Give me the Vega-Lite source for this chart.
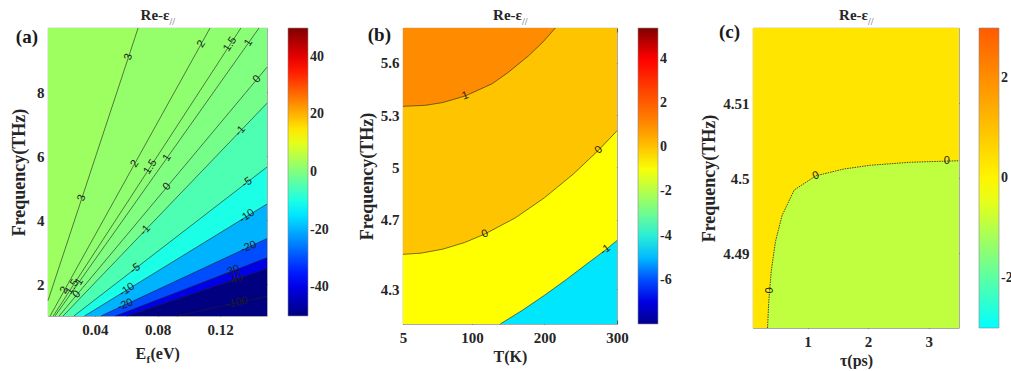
{
  "$schema": "https://vega.github.io/schema/vega-lite/v6.json",
  "background": "white",
  "padding": {"left": 10, "top": 7, "right": 0, "bottom": 0},
  "bounds": "flush",
  "spacing": 136,
  "datasets": {
    "a_c": [
      {"lev": 10, "band": 3, "Ef": 0.01, "F": 10}, {"lev": 10, "band": 3, "Ef": 0.15, "F": 10},
      {"lev": 3, "band": 2, "Ef": 0.01, "F": 1.48}, {"lev": 3, "band": 2, "Ef": 0.0676, "F": 10}, {"lev": 3, "band": 2, "Ef": 0.15, "F": 10},
      {"lev": 2, "band": 1.5, "Ef": 0.01136, "F": 1}, {"lev": 2, "band": 1.5, "Ef": 0.1136, "F": 10}, {"lev": 2, "band": 1.5, "Ef": 0.15, "F": 10},
      {"lev": 1.5, "band": 1, "Ef": 0.01333, "F": 1}, {"lev": 1.5, "band": 1, "Ef": 0.1333, "F": 10}, {"lev": 1.5, "band": 1, "Ef": 0.15, "F": 10},
      {"lev": 1, "band": 0, "Ef": 0.01449, "F": 1}, {"lev": 1, "band": 0, "Ef": 0.1449, "F": 10}, {"lev": 1, "band": 0, "Ef": 0.15, "F": 10},
      {"lev": 0, "band": -1, "Ef": 0.01709, "F": 1}, {"lev": 0, "band": -1, "Ef": 0.15, "F": 8.775},
      {"lev": -1, "band": -5, "Ef": 0.01961, "F": 1}, {"lev": -1, "band": -5, "Ef": 0.15, "F": 7.65},
      {"lev": -5, "band": -10, "Ef": 0.02653, "F": 1}, {"lev": -5, "band": -10, "Ef": 0.15, "F": 5.655},
      {"lev": -10, "band": -20, "Ef": 0.03333, "F": 1}, {"lev": -10, "band": -20, "Ef": 0.15, "F": 4.5},
      {"lev": -20, "band": -30, "Ef": 0.04386, "F": 1}, {"lev": -20, "band": -30, "Ef": 0.15, "F": 3.42},
      {"lev": -30, "band": -40, "Ef": 0.05319, "F": 1}, {"lev": -30, "band": -40, "Ef": 0.15, "F": 2.82},
      {"lev": -40, "band": -50, "Ef": 0.06061, "F": 1}, {"lev": -40, "band": -50, "Ef": 0.15, "F": 2.475},
      {"lev": -100, "band": -50, "Ef": 0.09259, "F": 1}, {"lev": -100, "band": -50, "Ef": 0.15, "F": 1.62}
    ],
    "a_l": [
      {"lev": 3, "Ef": 0.0317, "F": 4.69}, {"lev": 3, "Ef": 0.0615, "F": 9.1},
      {"lev": 2, "Ef": 0.0205, "F": 1.8}, {"lev": 2, "Ef": 0.0655, "F": 5.76}, {"lev": 2, "Ef": 0.108, "F": 9.5},
      {"lev": 1.5, "Ef": 0.0255, "F": 1.91}, {"lev": 1.5, "Ef": 0.0755, "F": 5.66}, {"lev": 1.5, "Ef": 0.1265, "F": 9.49},
      {"lev": 1, "Ef": 0.03, "F": 2.07}, {"lev": 1, "Ef": 0.0861, "F": 5.94}, {"lev": 1, "Ef": 0.1383, "F": 9.54},
      {"lev": 0, "Ef": 0.0285, "F": 1.67}, {"lev": 0, "Ef": 0.0861, "F": 5.04}, {"lev": 0, "Ef": 0.1436, "F": 8.4},
      {"lev": -1, "Ef": 0.0722, "F": 3.68}, {"lev": -1, "Ef": 0.133, "F": 6.78},
      {"lev": -5, "Ef": 0.0658, "F": 2.48}, {"lev": -5, "Ef": 0.1372, "F": 5.17},
      {"lev": -10, "Ef": 0.0605, "F": 1.82}, {"lev": -10, "Ef": 0.1372, "F": 4.12},
      {"lev": -20, "Ef": 0.0594, "F": 1.35}, {"lev": -20, "Ef": 0.1383, "F": 3.15},
      {"lev": -30, "Ef": 0.1276, "F": 2.4},
      {"lev": -40, "Ef": 0.1297, "F": 2.14},
      {"lev": -100, "Ef": 0.1308, "F": 1.41}
    ],
    "b_c": [
      {"lev": 10, "band": 0, "T": 5, "F": 5.8}, {"lev": 10, "band": 0, "T": 300, "F": 5.8},
      {"lev": 1, "band": 1, "T": 5, "F": 5.35}, {"lev": 1, "band": 1, "T": 36, "F": 5.356}, {"lev": 1, "band": 1, "T": 60, "F": 5.372}, {"lev": 1, "band": 1, "T": 91, "F": 5.41}, {"lev": 1, "band": 1, "T": 128, "F": 5.48}, {"lev": 1, "band": 1, "T": 150, "F": 5.545}, {"lev": 1, "band": 1, "T": 178, "F": 5.64}, {"lev": 1, "band": 1, "T": 198, "F": 5.72}, {"lev": 1, "band": 1, "T": 215, "F": 5.8},
      {"lev": 0, "band": -0.9, "T": 5, "F": 4.5}, {"lev": 0, "band": -0.9, "T": 30, "F": 4.507}, {"lev": 0, "band": -0.9, "T": 60, "F": 4.53}, {"lev": 0, "band": -0.9, "T": 90, "F": 4.568}, {"lev": 0, "band": -0.9, "T": 118, "F": 4.617}, {"lev": 0, "band": -0.9, "T": 160, "F": 4.71}, {"lev": 0, "band": -0.9, "T": 200, "F": 4.825}, {"lev": 0, "band": -0.9, "T": 240, "F": 4.962}, {"lev": 0, "band": -0.9, "T": 275, "F": 5.1}, {"lev": 0, "band": -0.9, "T": 300, "F": 5.21},
      {"lev": -1, "band": -4.6, "T": 139, "F": 4.1}, {"lev": -1, "band": -4.6, "T": 170, "F": 4.18}, {"lev": -1, "band": -4.6, "T": 200, "F": 4.265}, {"lev": -1, "band": -4.6, "T": 230, "F": 4.355}, {"lev": -1, "band": -4.6, "T": 260, "F": 4.45}, {"lev": -1, "band": -4.6, "T": 284, "F": 4.525}, {"lev": -1, "band": -4.6, "T": 300, "F": 4.58}
    ],
    "b_l": [
      {"lev": 1, "T": 91, "F": 5.41}, {"lev": 0, "T": 118, "F": 4.617}, {"lev": 0, "T": 275, "F": 5.1}, {"lev": -1, "T": 284, "F": 4.525}
    ],
    "c_c": [
      {"lev": 10, "band": 0.3, "tau": 0.1, "F": 4.52}, {"lev": 10, "band": 0.3, "tau": 3.5, "F": 4.52},
      {"lev": 0, "band": -0.9, "tau": 0.34, "F": 4.48}, {"lev": 0, "band": -0.9, "tau": 0.36, "F": 4.4835}, {"lev": 0, "band": -0.9, "tau": 0.4, "F": 4.4875}, {"lev": 0, "band": -0.9, "tau": 0.47, "F": 4.4915}, {"lev": 0, "band": -0.9, "tau": 0.58, "F": 4.495}, {"lev": 0, "band": -0.9, "tau": 0.78, "F": 4.4984}, {"lev": 0, "band": -0.9, "tau": 1.14, "F": 4.5003}, {"lev": 0, "band": -0.9, "tau": 1.6, "F": 4.5012}, {"lev": 0, "band": -0.9, "tau": 2.04, "F": 4.5017}, {"lev": 0, "band": -0.9, "tau": 2.7, "F": 4.5021}, {"lev": 0, "band": -0.9, "tau": 3.5, "F": 4.5023}
    ],
    "c_l": [
      {"lev": 0, "tau": 0.375, "F": 4.485}, {"lev": 0, "tau": 1.14, "F": 4.5003}, {"lev": 0, "tau": 3.3, "F": 4.5023}
    ]
  },
  "hconcat": [
    {
      "width": 219, "height": 288,
      "resolve": {"axis": {"x": "independent", "y": "independent"}},
      "layer": [
        {"data": {"name": "a_c"}, "transform": [{"filter": "datum.lev == 10"}], "mark": "area",
         "encoding": {
           "x": {"field": "Ef", "type": "quantitative", "scale": {"domain": [0.01, 0.15], "nice": false, "zero": false}, "axis": {"values": [0.04, 0.08, 0.12], "format": ".2f", "title": null}},
           "y": {"field": "F", "type": "quantitative", "scale": {"domain": [1, 10], "nice": false, "zero": false}, "axis": {"values": [2, 4, 6, 8], "format": ".0f", "title": "Frequency(THz)", "titlePadding": 8}},
           "y2": {"datum": 1},
           "color": {"field": "band", "type": "quantitative",
             "scale": {"domain": [-50, -37.5, -12.5, 12.5, 37.5, 50], "range": ["#000080", "#0000ff", "#00ffff", "#ffff00", "#ff0000", "#800000"], "clamp": true, "interpolate": "rgb"},
             "legend": {"title": null, "values": [-40, -20, 0, 20, 40], "gradientLength": 288, "format": ".0f"}}
         }},
        {"data": {"name": "a_c"}, "transform": [{"filter": "datum.lev == 3"}], "mark": "area", "encoding": {"x": {"field": "Ef", "type": "quantitative", "axis": null}, "y": {"field": "F", "type": "quantitative", "axis": null}, "y2": {"datum": 1}, "color": {"field": "band", "type": "quantitative"}}},
        {"data": {"name": "a_c"}, "transform": [{"filter": "datum.lev == 2"}], "mark": "area", "encoding": {"x": {"field": "Ef", "type": "quantitative", "axis": null}, "y": {"field": "F", "type": "quantitative", "axis": null}, "y2": {"datum": 1}, "color": {"field": "band", "type": "quantitative"}}},
        {"data": {"name": "a_c"}, "transform": [{"filter": "datum.lev == 1.5"}], "mark": "area", "encoding": {"x": {"field": "Ef", "type": "quantitative", "axis": null}, "y": {"field": "F", "type": "quantitative", "axis": null}, "y2": {"datum": 1}, "color": {"field": "band", "type": "quantitative"}}},
        {"data": {"name": "a_c"}, "transform": [{"filter": "datum.lev == 1"}], "mark": "area", "encoding": {"x": {"field": "Ef", "type": "quantitative", "axis": null}, "y": {"field": "F", "type": "quantitative", "axis": null}, "y2": {"datum": 1}, "color": {"field": "band", "type": "quantitative"}}},
        {"data": {"name": "a_c"}, "transform": [{"filter": "datum.lev == 0"}], "mark": "area", "encoding": {"x": {"field": "Ef", "type": "quantitative", "axis": null}, "y": {"field": "F", "type": "quantitative", "axis": null}, "y2": {"datum": 1}, "color": {"field": "band", "type": "quantitative"}}},
        {"data": {"name": "a_c"}, "transform": [{"filter": "datum.lev == -1"}], "mark": "area", "encoding": {"x": {"field": "Ef", "type": "quantitative", "axis": null}, "y": {"field": "F", "type": "quantitative", "axis": null}, "y2": {"datum": 1}, "color": {"field": "band", "type": "quantitative"}}},
        {"data": {"name": "a_c"}, "transform": [{"filter": "datum.lev == -5"}], "mark": "area", "encoding": {"x": {"field": "Ef", "type": "quantitative", "axis": null}, "y": {"field": "F", "type": "quantitative", "axis": null}, "y2": {"datum": 1}, "color": {"field": "band", "type": "quantitative"}}},
        {"data": {"name": "a_c"}, "transform": [{"filter": "datum.lev == -10"}], "mark": "area", "encoding": {"x": {"field": "Ef", "type": "quantitative", "axis": null}, "y": {"field": "F", "type": "quantitative", "axis": null}, "y2": {"datum": 1}, "color": {"field": "band", "type": "quantitative"}}},
        {"data": {"name": "a_c"}, "transform": [{"filter": "datum.lev == -20"}], "mark": "area", "encoding": {"x": {"field": "Ef", "type": "quantitative", "axis": null}, "y": {"field": "F", "type": "quantitative", "axis": null}, "y2": {"datum": 1}, "color": {"field": "band", "type": "quantitative"}}},
        {"data": {"name": "a_c"}, "transform": [{"filter": "datum.lev == -30"}], "mark": "area", "encoding": {"x": {"field": "Ef", "type": "quantitative", "axis": null}, "y": {"field": "F", "type": "quantitative", "axis": null}, "y2": {"datum": 1}, "color": {"field": "band", "type": "quantitative"}}},
        {"data": {"name": "a_c"}, "transform": [{"filter": "datum.lev == -40"}], "mark": "area", "encoding": {"x": {"field": "Ef", "type": "quantitative", "axis": null}, "y": {"field": "F", "type": "quantitative", "axis": null}, "y2": {"datum": 1}, "color": {"field": "band", "type": "quantitative"}}},
        {"data": {"name": "a_c"}, "transform": [{"filter": "datum.lev < 10 && !(datum.Ef == 0.15 && datum.F == 10)"}],
         "mark": {"type": "line", "color": "#1e1e1e", "strokeWidth": 0.6},
         "encoding": {
           "x": {"field": "Ef", "type": "quantitative", "axis": {"orient": "top", "values": [0.04, 0.08, 0.12], "labels": false, "title": null}},
           "y": {"field": "F", "type": "quantitative", "axis": {"orient": "right", "values": [2, 4, 6, 8], "labels": false, "title": null}},
           "detail": {"field": "lev", "type": "nominal"}
         }},
        {"data": {"name": "a_l"}, "transform": [{"filter": "datum.lev == 3"}], "mark": {"type": "text", "angle": 288, "font": "Liberation Sans", "fontSize": 11, "color": "#1e1e1e"}, "encoding": {"x": {"field": "Ef", "type": "quantitative", "axis": null}, "y": {"field": "F", "type": "quantitative", "axis": null}, "text": {"field": "lev", "type": "quantitative", "format": "~g"}}},
        {"data": {"name": "a_l"}, "transform": [{"filter": "datum.lev == 2 || datum.lev == 1.5 || datum.lev == 1"}], "mark": {"type": "text", "angle": 303, "font": "Liberation Sans", "fontSize": 11, "color": "#1e1e1e"}, "encoding": {"x": {"field": "Ef", "type": "quantitative", "axis": null}, "y": {"field": "F", "type": "quantitative", "axis": null}, "text": {"field": "lev", "type": "quantitative", "format": "~g"}}},
        {"data": {"name": "a_l"}, "transform": [{"filter": "datum.lev == 0 || datum.lev == -1"}], "mark": {"type": "text", "angle": 312, "font": "Liberation Sans", "fontSize": 11, "color": "#1e1e1e"}, "encoding": {"x": {"field": "Ef", "type": "quantitative", "axis": null}, "y": {"field": "F", "type": "quantitative", "axis": null}, "text": {"field": "lev", "type": "quantitative", "format": "~g"}}},
        {"data": {"name": "a_l"}, "transform": [{"filter": "datum.lev == -5 || datum.lev == -10"}], "mark": {"type": "text", "angle": 325, "font": "Liberation Sans", "fontSize": 11, "color": "#1e1e1e"}, "encoding": {"x": {"field": "Ef", "type": "quantitative", "axis": null}, "y": {"field": "F", "type": "quantitative", "axis": null}, "text": {"field": "lev", "type": "quantitative", "format": "~g"}}},
        {"data": {"name": "a_l"}, "transform": [{"filter": "datum.lev == -20 || datum.lev == -30 || datum.lev == -40"}], "mark": {"type": "text", "angle": 338, "font": "Liberation Sans", "fontSize": 11, "color": "#1e1e1e"}, "encoding": {"x": {"field": "Ef", "type": "quantitative", "axis": null}, "y": {"field": "F", "type": "quantitative", "axis": null}, "text": {"field": "lev", "type": "quantitative", "format": "~g"}}},
        {"data": {"name": "a_l"}, "transform": [{"filter": "datum.lev == -100"}], "mark": {"type": "text", "angle": 348, "font": "Liberation Sans", "fontSize": 11, "color": "#1e1e1e"}, "encoding": {"x": {"field": "Ef", "type": "quantitative", "axis": null}, "y": {"field": "F", "type": "quantitative", "axis": null}, "text": {"field": "lev", "type": "quantitative", "format": "~g"}}},
        {"data": {"values": [{}]}, "mark": {"type": "text", "text": "E", "align": "left", "baseline": "alphabetic", "dx": -22, "dy": 43, "font": "Liberation Serif", "fontSize": 16, "fontWeight": "bold", "color": "#262626"}, "encoding": {"x": {"datum": 0.08, "type": "quantitative", "axis": null}, "y": {"datum": 1, "type": "quantitative", "axis": null}}},
        {"data": {"values": [{}]}, "mark": {"type": "text", "text": "f", "align": "left", "baseline": "alphabetic", "dx": -11, "dy": 47, "font": "Liberation Serif", "fontSize": 11, "fontWeight": "bold", "color": "#262626"}, "encoding": {"x": {"datum": 0.08, "type": "quantitative", "axis": null}, "y": {"datum": 1, "type": "quantitative", "axis": null}}},
        {"data": {"values": [{}]}, "mark": {"type": "text", "text": "(eV)", "align": "left", "baseline": "alphabetic", "dx": -7, "dy": 43, "font": "Liberation Serif", "fontSize": 16, "fontWeight": "bold", "color": "#262626"}, "encoding": {"x": {"datum": 0.08, "type": "quantitative", "axis": null}, "y": {"datum": 1, "type": "quantitative", "axis": null}}},
        {"data": {"values": [{}]}, "mark": {"type": "text", "text": "Re-ε", "align": "right", "baseline": "alphabetic", "dx": 12, "dy": -8, "font": "Liberation Serif", "fontSize": 15, "fontWeight": "bold", "color": "#262626"}, "encoding": {"x": {"datum": 0.08, "type": "quantitative", "axis": null}, "y": {"datum": 10, "type": "quantitative", "axis": null}}},
        {"data": {"values": [{}]}, "mark": {"type": "text", "text": "//", "align": "left", "baseline": "alphabetic", "dx": 12, "dy": -3, "font": "Liberation Serif", "fontSize": 10, "color": "#555555"}, "encoding": {"x": {"datum": 0.08, "type": "quantitative", "axis": null}, "y": {"datum": 10, "type": "quantitative", "axis": null}}},
        {"data": {"values": [{}]}, "mark": {"type": "text", "text": "(a)", "align": "right", "baseline": "top", "dx": -10, "dy": 0, "font": "Liberation Serif", "fontSize": 19, "fontWeight": "bold", "color": "#1a1a1a"}, "encoding": {"x": {"datum": 0.01, "type": "quantitative", "axis": null}, "y": {"datum": 10, "type": "quantitative", "axis": null}}}
      ]
    },
    {
      "width": 214, "height": 296,
      "resolve": {"axis": {"x": "independent", "y": "independent"}},
      "layer": [
        {"data": {"name": "b_c"}, "transform": [{"filter": "datum.lev == 10"}], "mark": "area",
         "encoding": {
           "x": {"field": "T", "type": "quantitative", "scale": {"domain": [5, 300], "nice": false, "zero": false}, "axis": {"values": [5, 100, 200, 300], "format": ".0f", "title": "T(K)"}},
           "y": {"field": "F", "type": "quantitative", "scale": {"domain": [4.1, 5.8], "nice": false, "zero": false}, "axis": {"values": [4.3, 4.7, 5, 5.3, 5.6], "format": ".1~f", "title": "Frequency(THz)", "titlePadding": 4}},
           "y2": {"datum": 4.1},
           "color": {"field": "band", "type": "quantitative",
             "scale": {"domain": [-8, -6.7, -4.6, -2.75, -0.9, 0, 1, 4, 5.4], "range": ["#00008c", "#0000ff", "#00e6ff", "#80ff80", "#ffff00", "#ffc400", "#ff8c00", "#ff0000", "#800000"], "clamp": true, "interpolate": "rgb"},
             "legend": {"title": null, "values": [4, 2, 0, -2, -4, -6], "gradientLength": 296, "format": ".0f"}}
         }},
        {"data": {"name": "b_c"}, "transform": [{"filter": "datum.lev == 1"}], "mark": "area", "encoding": {"x": {"field": "T", "type": "quantitative", "axis": null}, "y": {"field": "F", "type": "quantitative", "axis": null}, "y2": {"datum": 5.8}, "color": {"field": "band", "type": "quantitative"}}},
        {"data": {"name": "b_c"}, "transform": [{"filter": "datum.lev == 0"}], "mark": "area", "encoding": {"x": {"field": "T", "type": "quantitative", "axis": null}, "y": {"field": "F", "type": "quantitative", "axis": null}, "y2": {"datum": 4.1}, "color": {"field": "band", "type": "quantitative"}}},
        {"data": {"name": "b_c"}, "transform": [{"filter": "datum.lev == -1"}], "mark": "area", "encoding": {"x": {"field": "T", "type": "quantitative", "axis": null}, "y": {"field": "F", "type": "quantitative", "axis": null}, "y2": {"datum": 4.1}, "color": {"field": "band", "type": "quantitative"}}},
        {"data": {"name": "b_c"}, "transform": [{"filter": "datum.lev < 10"}],
         "mark": {"type": "line", "color": "#1e1e1e", "strokeWidth": 0.6},
         "encoding": {
           "x": {"field": "T", "type": "quantitative", "axis": {"orient": "top", "values": [5, 100, 200, 300], "labels": false, "title": null}},
           "y": {"field": "F", "type": "quantitative", "axis": {"orient": "right", "values": [4.3, 4.7, 5, 5.3, 5.6], "labels": false, "title": null}},
           "detail": {"field": "lev", "type": "nominal"}
         }},
        {"data": {"name": "b_l"}, "transform": [{"filter": "datum.lev == 1"}], "mark": {"type": "text", "angle": 339, "font": "Liberation Sans", "fontSize": 11, "color": "#1e1e1e"}, "encoding": {"x": {"field": "T", "type": "quantitative", "axis": null}, "y": {"field": "F", "type": "quantitative", "axis": null}, "text": {"field": "lev", "type": "quantitative", "format": "~g"}}},
        {"data": {"name": "b_l"}, "transform": [{"filter": "datum.lev == 0 && datum.T < 200"}], "mark": {"type": "text", "angle": 335, "font": "Liberation Sans", "fontSize": 11, "color": "#1e1e1e"}, "encoding": {"x": {"field": "T", "type": "quantitative", "axis": null}, "y": {"field": "F", "type": "quantitative", "axis": null}, "text": {"field": "lev", "type": "quantitative", "format": "~g"}}},
        {"data": {"name": "b_l"}, "transform": [{"filter": "datum.lev == 0 && datum.T > 200"}], "mark": {"type": "text", "angle": 315, "font": "Liberation Sans", "fontSize": 11, "color": "#1e1e1e"}, "encoding": {"x": {"field": "T", "type": "quantitative", "axis": null}, "y": {"field": "F", "type": "quantitative", "axis": null}, "text": {"field": "lev", "type": "quantitative", "format": "~g"}}},
        {"data": {"name": "b_l"}, "transform": [{"filter": "datum.lev == -1"}], "mark": {"type": "text", "angle": 322, "font": "Liberation Sans", "fontSize": 11, "color": "#1e1e1e"}, "encoding": {"x": {"field": "T", "type": "quantitative", "axis": null}, "y": {"field": "F", "type": "quantitative", "axis": null}, "text": {"field": "lev", "type": "quantitative", "format": "~g"}}},
        {"data": {"values": [{}]}, "mark": {"type": "text", "text": "Re-ε", "align": "right", "baseline": "alphabetic", "dx": 12, "dy": -8, "font": "Liberation Serif", "fontSize": 15, "fontWeight": "bold", "color": "#262626"}, "encoding": {"x": {"datum": 152.5, "type": "quantitative", "axis": null}, "y": {"datum": 5.8, "type": "quantitative", "axis": null}}},
        {"data": {"values": [{}]}, "mark": {"type": "text", "text": "//", "align": "left", "baseline": "alphabetic", "dx": 12, "dy": -3, "font": "Liberation Serif", "fontSize": 10, "color": "#555555"}, "encoding": {"x": {"datum": 152.5, "type": "quantitative", "axis": null}, "y": {"datum": 5.8, "type": "quantitative", "axis": null}}},
        {"data": {"values": [{}]}, "mark": {"type": "text", "text": "(b)", "align": "right", "baseline": "top", "dx": -12, "dy": -2, "font": "Liberation Serif", "fontSize": 19, "fontWeight": "bold", "color": "#1a1a1a"}, "encoding": {"x": {"datum": 5, "type": "quantitative", "axis": null}, "y": {"datum": 5.8, "type": "quantitative", "axis": null}}}
      ]
    },
    {
      "width": 206, "height": 300,
      "resolve": {"axis": {"x": "independent", "y": "independent"}},
      "layer": [
        {"data": {"name": "c_c"}, "transform": [{"filter": "datum.lev == 10"}], "mark": "area",
         "encoding": {
           "x": {"field": "tau", "type": "quantitative", "scale": {"domain": [0.1, 3.5], "nice": false, "zero": false}, "axis": {"values": [1, 2, 3], "format": ".0f", "title": "τ(ps)"}},
           "y": {"field": "F", "type": "quantitative", "scale": {"domain": [4.48, 4.52], "nice": false, "zero": false}, "axis": {"values": [4.49, 4.5, 4.51], "format": ".2~f", "title": "Frequency(THz)", "titlePadding": 4}},
           "y2": {"datum": 4.48},
           "color": {"field": "band", "type": "quantitative",
             "scale": {"domain": [-3, -0.2, 3], "range": ["#00ffff", "#ffff00", "#ff5a00"], "clamp": true, "interpolate": "rgb"},
             "legend": {"title": null, "values": [2, 0, -2], "gradientLength": 300, "format": ".0f", "offset": 18}}
         }},
        {"data": {"name": "c_c"}, "transform": [{"filter": "datum.lev == 0"}], "mark": "area", "encoding": {"x": {"field": "tau", "type": "quantitative", "axis": null}, "y": {"field": "F", "type": "quantitative", "axis": null}, "y2": {"datum": 4.48}, "color": {"field": "band", "type": "quantitative"}}},
        {"data": {"name": "c_c"}, "transform": [{"filter": "datum.lev < 10"}],
         "mark": {"type": "line", "color": "#1e1e1e", "strokeWidth": 0.8, "strokeDash": [1.5, 1]},
         "encoding": {
           "x": {"field": "tau", "type": "quantitative", "axis": {"orient": "top", "values": [1, 2, 3], "labels": false, "title": null}},
           "y": {"field": "F", "type": "quantitative", "axis": {"orient": "right", "values": [4.49, 4.5, 4.51], "labels": false, "title": null}},
           "detail": {"field": "lev", "type": "nominal"}
         }},
        {"data": {"name": "c_l"}, "transform": [{"filter": "datum.tau < 0.5"}], "mark": {"type": "text", "angle": 274, "font": "Liberation Sans", "fontSize": 11, "color": "#1e1e1e"}, "encoding": {"x": {"field": "tau", "type": "quantitative", "axis": null}, "y": {"field": "F", "type": "quantitative", "axis": null}, "text": {"field": "lev", "type": "quantitative", "format": "~g"}}},
        {"data": {"name": "c_l"}, "transform": [{"filter": "datum.tau > 0.5 && datum.tau < 2"}], "mark": {"type": "text", "angle": 337, "font": "Liberation Sans", "fontSize": 11, "color": "#1e1e1e"}, "encoding": {"x": {"field": "tau", "type": "quantitative", "axis": null}, "y": {"field": "F", "type": "quantitative", "axis": null}, "text": {"field": "lev", "type": "quantitative", "format": "~g"}}},
        {"data": {"name": "c_l"}, "transform": [{"filter": "datum.tau > 2"}], "mark": {"type": "text", "angle": 0, "font": "Liberation Sans", "fontSize": 11, "color": "#1e1e1e"}, "encoding": {"x": {"field": "tau", "type": "quantitative", "axis": null}, "y": {"field": "F", "type": "quantitative", "axis": null}, "text": {"field": "lev", "type": "quantitative", "format": "~g"}}},
        {"data": {"values": [{}]}, "mark": {"type": "text", "text": "Re-ε", "align": "right", "baseline": "alphabetic", "dx": 12, "dy": -8, "font": "Liberation Serif", "fontSize": 15, "fontWeight": "bold", "color": "#262626"}, "encoding": {"x": {"datum": 1.8, "type": "quantitative", "axis": null}, "y": {"datum": 4.52, "type": "quantitative", "axis": null}}},
        {"data": {"values": [{}]}, "mark": {"type": "text", "text": "//", "align": "left", "baseline": "alphabetic", "dx": 12, "dy": -3, "font": "Liberation Serif", "fontSize": 10, "color": "#555555"}, "encoding": {"x": {"datum": 1.8, "type": "quantitative", "axis": null}, "y": {"datum": 4.52, "type": "quantitative", "axis": null}}},
        {"data": {"values": [{}]}, "mark": {"type": "text", "text": "(c)", "align": "right", "baseline": "top", "dx": -13, "dy": -5, "font": "Liberation Serif", "fontSize": 19, "fontWeight": "bold", "color": "#1a1a1a"}, "encoding": {"x": {"datum": 0.1, "type": "quantitative", "axis": null}, "y": {"datum": 4.52, "type": "quantitative", "axis": null}}}
      ]
    }
  ],
  "resolve": {"scale": {"color": "independent"}, "legend": {"color": "independent"}},
  "config": {
    "locale": {"number": {"decimal": ".", "thousands": ",", "grouping": [3], "currency": ["$", ""], "minus": "-"}},
    "view": {"stroke": "#7a7a7a", "strokeWidth": 0.8},
    "axis": {"domain": false, "grid": false, "tickColor": "#444444", "tickSize": -4, "tickWidth": 0.8, "labelFont": "Liberation Serif", "labelFontSize": 15, "labelFontWeight": "bold", "labelColor": "#262626", "labelOverlap": false, "labelFlush": false, "titleFont": "Liberation Serif", "titleFontSize": 16, "titleFontWeight": "bold", "titleColor": "#262626"},
    "axisX": {"labelPadding": 10, "titlePadding": 3},
    "axisY": {"labelPadding": 8, "titleFontSize": 18},
    "legend": {"labelFont": "Liberation Serif", "labelFontSize": 14, "labelFontWeight": "bold", "labelColor": "#262626", "gradientThickness": 20, "gradientStrokeColor": "#8c8c8c", "gradientStrokeWidth": 0.6, "padding": 0, "offset": 19, "labelOffset": 4, "labelOverlap": false, "orient": "right"}
  }
}
